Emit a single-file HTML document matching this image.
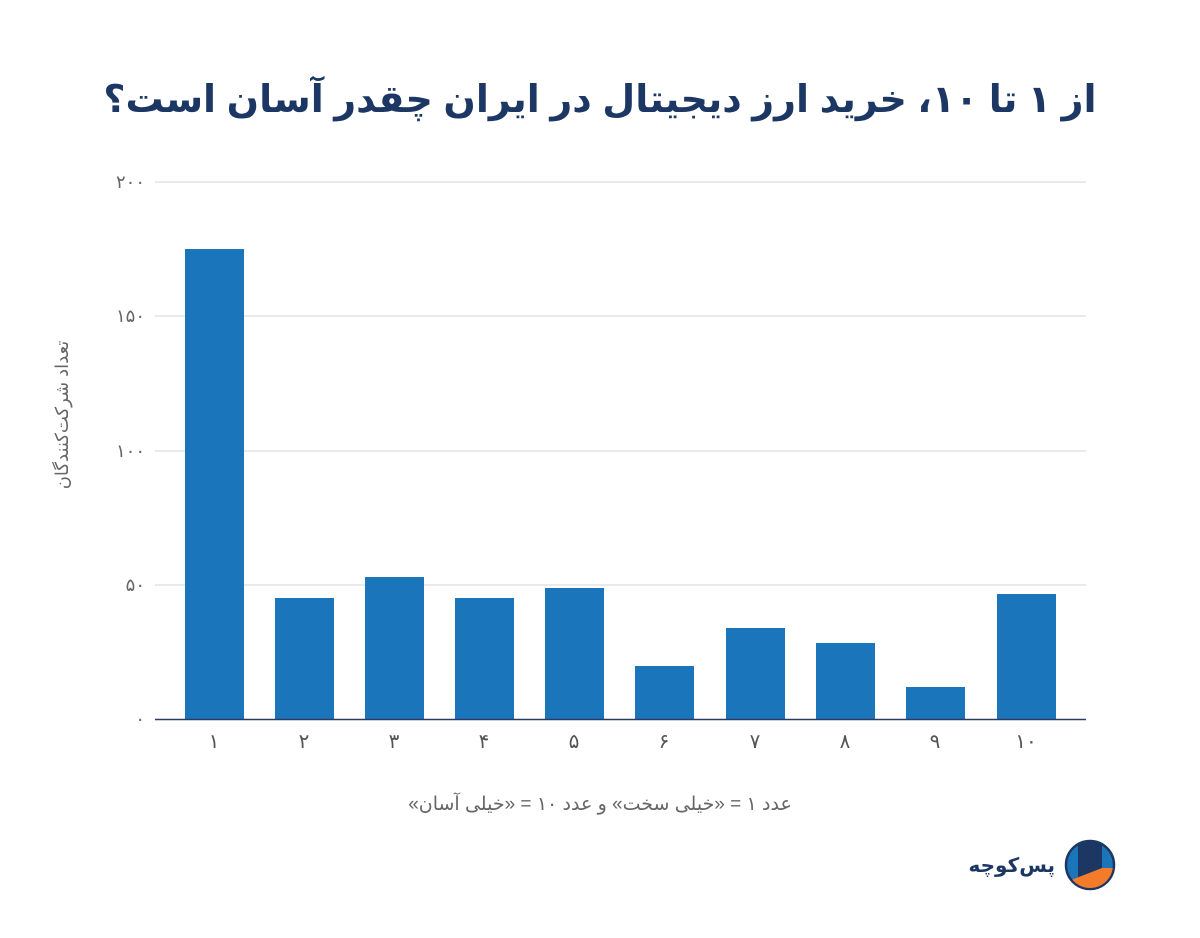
<!DOCTYPE html>
<html><head><meta charset="utf-8"><style>
html,body{margin:0;padding:0;background:#fff;width:1200px;height:938px;overflow:hidden}
</style></head><body>
<svg width="1200" height="938" xmlns="http://www.w3.org/2000/svg" font-family="'Liberation Sans','DejaVu Sans',sans-serif">
<text x="600" y="112" text-anchor="middle" font-size="38" font-weight="bold" fill="#1d3764" direction="rtl">از ۱ تا ۱۰، خرید ارز دیجیتال در ایران چقدر آسان است؟</text>
<g stroke="#d6d6d6" stroke-width="1">
<line x1="155" y1="182" x2="1086" y2="182"/><line x1="155" y1="316" x2="1086" y2="316"/><line x1="155" y1="451" x2="1086" y2="451"/><line x1="155" y1="585" x2="1086" y2="585"/>
</g>
<g font-size="18" fill="#666" text-anchor="end">
<text x="145" y="188">۲۰۰</text><text x="145" y="322">۱۵۰</text><text x="145" y="457">۱۰۰</text><text x="145" y="591">۵۰</text><text x="145" y="725">۰</text>
</g>
<g fill="#1b75bb">
<rect x="185" y="249" width="59" height="470"/>
<rect x="275" y="598" width="59" height="121"/>
<rect x="365" y="577" width="59" height="142"/>
<rect x="455" y="598" width="59" height="121"/>
<rect x="545" y="588" width="59" height="131"/>
<rect x="635" y="666" width="59" height="53"/>
<rect x="726" y="628" width="59" height="91"/>
<rect x="816" y="643" width="59" height="76"/>
<rect x="906" y="687" width="59" height="32"/>
<rect x="997" y="594" width="59" height="125"/>
</g>
<line x1="155" y1="719.5" x2="1086" y2="719.5" stroke="#2b3a67" stroke-width="1.5"/>
<g font-size="20" fill="#555" text-anchor="middle">
<text x="214" y="748">۱</text><text x="304" y="748">۲</text><text x="394" y="748">۳</text><text x="484" y="748">۴</text><text x="574" y="748">۵</text><text x="664" y="748">۶</text><text x="755" y="748">۷</text><text x="845" y="748">۸</text><text x="935" y="748">۹</text><text x="1026" y="748">۱۰</text>
</g>
<text x="600" y="810" text-anchor="middle" font-size="19" fill="#666" direction="rtl">عدد ۱ = «خیلی سخت» و عدد ۱۰ = «خیلی آسان»</text>
<text transform="translate(68,415) rotate(-90)" text-anchor="middle" font-size="18" fill="#666" direction="rtl">تعداد شرکت‌کنندگان</text>
<text x="1055" y="872" text-anchor="start" font-size="20" font-weight="bold" fill="#1d3764" direction="rtl">پس‌کوچه</text>
<defs><clipPath id="c"><circle cx="1090" cy="865" r="23"/></clipPath></defs>
<circle cx="1090" cy="865" r="24" fill="#1b75bb" stroke="#1d3764" stroke-width="2.5"/>
<g clip-path="url(#c)">
<rect x="1078" y="840" width="24" height="40" fill="#1d3764"/>
<polygon points="1066,882 1102,868 1114,868 1114,892 1066,892" fill="#f47b2a"/>
</g>
</svg>
</body></html>
